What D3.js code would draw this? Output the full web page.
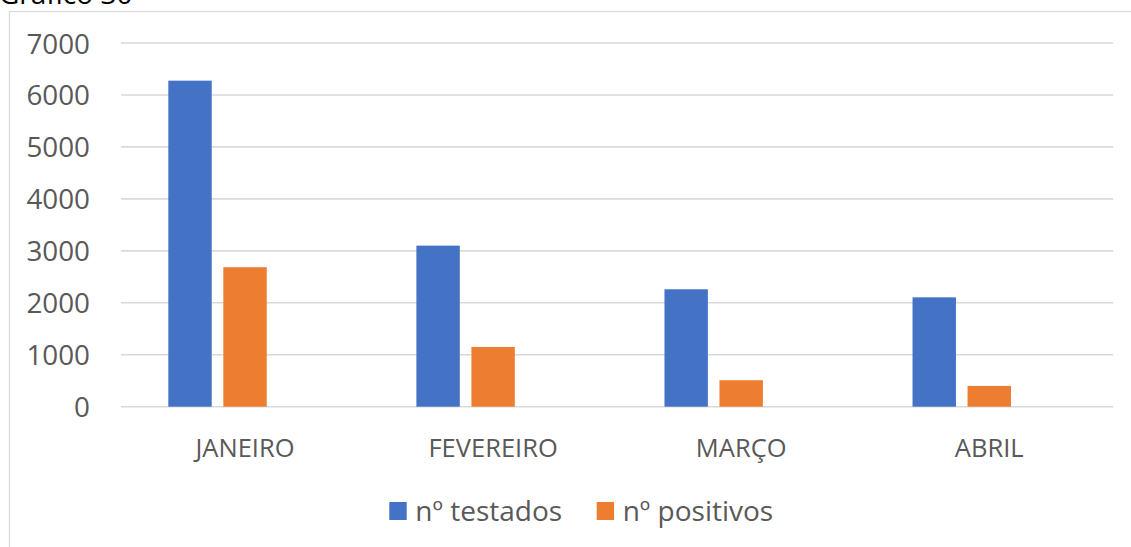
<!DOCTYPE html>
<html>
<head>
<meta charset="utf-8">
<script src="https://cdn.jsdelivr.net/npm/d3@7"></script>
<style>
  html, body { margin: 0; padding: 0; background: #fff; }
  svg { display: block; }
  text { font-family: "Open Sans", "Liberation Sans", sans-serif; }
</style>
</head>
<body>
<svg id="chart" width="1131" height="547"></svg>
<script>
// Monthly totals
const categories = ["JANEIRO", "FEVEREIRO", "MARÇO", "ABRIL"];
const seriesNames = ["nº testados", "nº positivos"];
const testados = [6275, 3100, 2260, 2105];
const positivos = [2685, 1150, 510, 400];
const yTicks = [0, 1000, 2000, 3000, 4000, 5000, 6000, 7000];
const colors = ["#4472C4", "#ED7D31"];
// Each month keeps room for three bar slots; the third slot is left empty.
const slots = ["s0", "s1", "s2"];

const svg = d3.select("#chart");
const W = 1131, H = 547;
const plot = { left: 121, right: 1113.3, top: 43, bottom: 406.7 };

// Chart area frame
svg.append("rect")
  .attr("x", 9.5).attr("y", 11.5)
  .attr("width", W + 10).attr("height", H + 10)
  .attr("fill", "#fff").attr("stroke", "#d9d9d9").attr("stroke-width", 1.3);

// Caption above the frame
svg.append("text")
  .attr("x", -1).attr("y", 4)
  .attr("font-size", 28).attr("fill", "#000")
  .text("Gráfico 30");

const y = d3.scaleLinear().domain([0, 7000]).range([plot.bottom, plot.top]);
const x0 = d3.scaleBand().domain(categories).range([plot.left, plot.right]).padding(0);
const x1 = d3.scaleBand().domain(slots).range([0, x0.bandwidth()])
  .paddingInner(0.211).paddingOuter(0.86);

// Gridlines
svg.append("g")
  .selectAll("line").data(yTicks).join("line")
  .attr("x1", plot.left).attr("x2", plot.right)
  .attr("y1", d => y(d)).attr("y2", d => y(d))
  .attr("stroke", "#d9d9d9").attr("stroke-width", 1.6);

// Y axis labels
const yAxis = d3.axisLeft(y).tickValues(yTicks).tickSize(0).tickPadding(0).tickFormat(d3.format("d"));
svg.append("g")
  .attr("transform", "translate(90,0)")
  .call(yAxis)
  .call(g => g.select(".domain").remove())
  .call(g => g.selectAll("text")
    .attr("font-size", 27.8).attr("fill", "#595959")
    .attr("font-family", null).attr("dy", "0.36em"));

// Bars
const data = categories.map((c, i) => ({ cat: c, vals: [testados[i], positivos[i]] }));
const groups = svg.append("g").selectAll("g").data(data).join("g")
  .attr("transform", d => `translate(${x0(d.cat)},0)`);
groups.selectAll("rect")
  .data(d => d.vals.map((v, j) => ({ v, j })))
  .join("rect")
  .attr("x", d => x1(slots[d.j]))
  .attr("width", x1.bandwidth())
  .attr("y", d => y(d.v))
  .attr("height", d => y(0) - y(d.v))
  .attr("fill", d => colors[d.j]);

// Category labels
const xAxis = d3.axisBottom(x0).tickSize(0).tickPadding(0);
svg.append("g")
  .attr("transform", `translate(0,${plot.bottom})`)
  .call(xAxis)
  .call(g => g.select(".domain").remove())
  .call(g => g.selectAll("text")
    .attr("font-size", 25.5).attr("fill", "#595959")
    .attr("font-family", null).attr("y", 50.3).attr("dy", 0));

// Legend
const legendItems = [
  { name: seriesNames[0], color: colors[0], x: 389.3 },
  { name: seriesNames[1], color: colors[1], x: 596.7 }
];
const lg = svg.append("g").selectAll("g").data(legendItems).join("g")
  .attr("transform", d => `translate(${d.x},0)`);
lg.append("rect").attr("x", 0).attr("y", 502).attr("width", 17.4).attr("height", 18).attr("fill", d => d.color);
lg.append("text").attr("x", 26).attr("y", 520.5)
  .attr("font-size", 28).attr("fill", "#595959")
  .text(d => d.name);
</script>
</body>
</html>
